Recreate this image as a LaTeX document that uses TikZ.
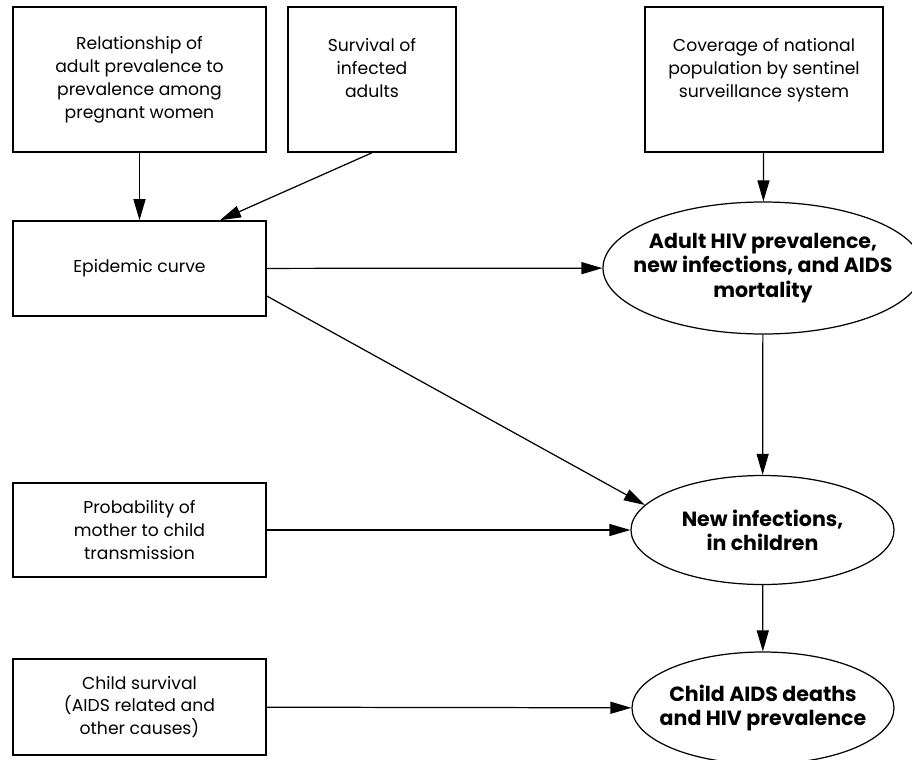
\documentclass[tikz,border=0pt]{standalone}
\usepackage{fontspec}
\setmainfont{Poppins}
\usetikzlibrary{arrows.meta,shapes.geometric,calc}

\tikzset{
  box/.style={draw, line width=0.9pt, minimum width=5.06cm, align=center,
    font=\fontsize{9.8}{13}\selectfont, inner sep=0pt},
  outcome/.style={draw, ellipse, line width=0.7pt, align=center, inner sep=0pt,
    inner xsep=-0.8cm, font=\fontsize{11.7}{13.8}\selectfont\bfseries},
  link/.style={line width=0.7pt, -{Triangle[length=0.42cm,width=0.24cm]}}
}

\begin{document}
\begin{tikzpicture}

    \useasboundingbox (0,0) rectangle (18.24,-15.18);

    % inputs
    \node[box, minimum height=2.9cm] (rel) at (2.79,-1.59)
        {Relationship of\\adult prevalence to\\prevalence among\\pregnant women};
    \node[box, minimum width=3.36cm, minimum height=2.9cm] (surv) at (7.44,-1.59)
        {Survival of\\infected\\adults\\~};
    \node[box, minimum width=4.76cm, minimum height=2.9cm] (cov) at (15.28,-1.59)
        {Coverage of national\\population by sentinel\\surveillance system\\~};
    \node[box, minimum height=1.9cm] (epi) at (2.79,-5.37) {Epidemic curve};
    \node[box, minimum height=1.88cm] (mtct) at (2.79,-10.6)
        {Probability of\\mother to child\\transmission};
    \node[box, minimum height=1.92cm] (child) at (2.79,-14.14)
        {Child survival\\(AIDS related and\\other causes)};

    % outputs
    \node[outcome, minimum width=6.4cm, minimum height=2.64cm] (adult) at (15.26,-5.36)
        {Adult HIV prevalence,\\new infections, and AIDS\\mortality};
    \node[outcome, minimum width=5.26cm, minimum height=2.18cm] (newinf) at (15.25,-10.6)
        {New infections,\\in children};
    \node[outcome, minimum width=5.24cm, minimum height=2.24cm] (deaths) at (15.26,-14.16)
        {Child AIDS deaths\\and HIV prevalence};

    \draw[link] (rel) -- (epi);
    \draw[link] (surv.south) -- ($(epi.north)+(1.61,0)$);
    \draw[link] (cov) -- (adult);
    \draw[link] (epi) -- (adult);
    \draw[link] ($(epi.east)+(0,-0.55)$) -- (newinf.168);
    \draw[link] (adult) -- (newinf);
    \draw[link] (mtct) -- (newinf);
    \draw[link] (newinf) -- (deaths);
    \draw[link] (child) -- (deaths);

\end{tikzpicture}
\end{document}
